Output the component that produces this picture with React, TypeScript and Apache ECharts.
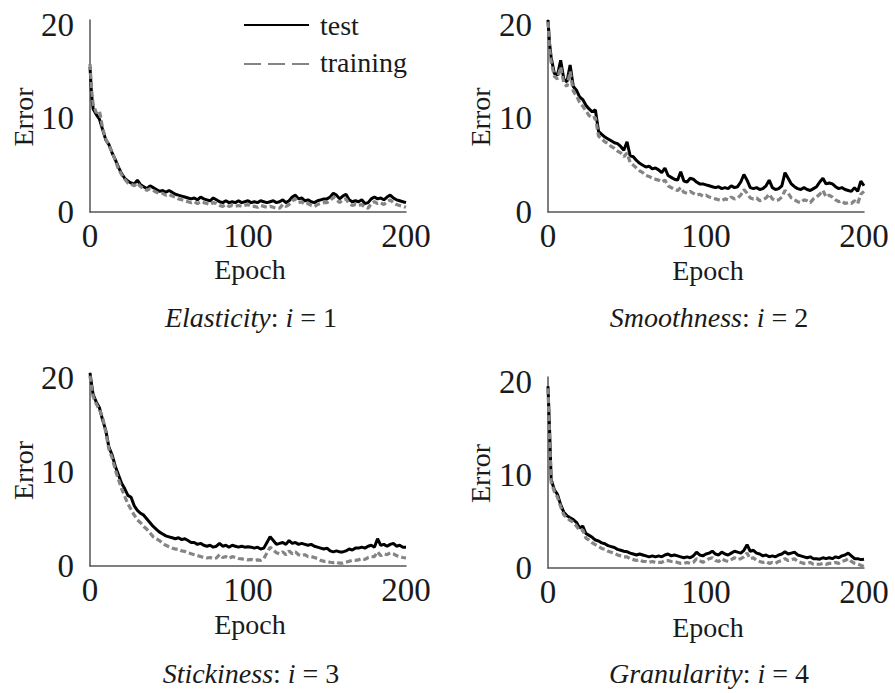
import React, { useEffect, useRef } from "react";
import * as echarts from "echarts";

const FONT = "'Liberation Serif', 'Times New Roman', serif";

// Epoch grid: 0, 1, then every 2 epochs up to 200
const EPOCHS: number[] = [0, 1, ...Array.from({ length: 100 }, (_, i) => 2 + 2 * i)];

const X_TICKS = [0, 100, 200];
const Y_TICKS = [0, 10, 20];

const CAPTIONS = ["Elasticity", "Smoothness", "Stickiness", "Granularity"];
const CAPTION_INDEX = ["1", "2", "3", "4"];

const P1_TEST = [15.5, 12.5,
  11.0, 10.4, 9.9, 8.8, 7.7, 7.2, 6.3, 5.6, 4.8, 4.1,
  3.6, 3.3, 3.1, 3.0, 3.4, 2.9, 2.7, 2.5, 2.8, 2.6,
  2.4, 2.2, 2.3, 2.1, 2.3, 2.1, 1.9, 1.8, 1.7, 1.6,
  1.5, 1.4, 1.5, 1.3, 1.6, 1.4, 1.3, 1.2, 1.5, 1.3,
  1.1, 1.0, 1.2, 1.0, 1.1, 1.0, 1.2, 1.0, 1.1, 1.2,
  1.0, 1.1, 1.0, 1.2, 1.1, 1.0, 1.1, 1.2, 1.0, 1.1,
  1.3, 1.0, 1.2, 1.6, 1.8, 1.4, 1.5, 1.2, 1.3, 1.1,
  1.0, 1.2, 1.3, 1.4, 1.4, 1.6, 2.0, 1.8, 1.4, 1.7,
  1.9, 1.3, 1.1, 1.2, 1.1, 1.3, 0.9, 1.0, 1.4, 1.6,
  1.4, 1.5, 1.3, 1.6, 1.8, 1.5, 1.3, 1.2, 1.1, 1.0];

const P1_TRAIN = [15.8, 13.0,
  11.5, 10.6, 10.8, 8.9, 7.8, 7.1, 6.4, 5.5, 4.6, 4.0,
  3.5, 3.1, 3.0, 2.8, 3.1, 2.7, 2.5, 2.3, 2.5, 2.3,
  2.1, 2.0, 2.0, 1.8, 1.9, 1.7, 1.6, 1.4, 1.3, 1.2,
  1.1, 1.0, 1.1, 0.9, 1.1, 1.0, 0.9, 0.8, 1.0, 0.9,
  0.7, 0.6, 0.8, 0.6, 0.7, 0.6, 0.7, 0.6, 0.7, 0.8,
  0.6, 0.6, 0.5, 0.7, 0.6, 0.5, 0.6, 0.5, 0.4, 0.4,
  0.8, 0.6, 0.8, 1.2, 1.4, 1.0, 1.1, 0.8, 0.9, 0.7,
  0.6, 0.8, 0.9, 1.0, 1.0, 1.2, 1.6, 1.3, 1.0, 1.3,
  1.4, 0.9, 0.7, 0.8, 0.7, 0.8, 0.5, 0.4, 0.9, 1.1,
  0.9, 1.0, 0.8, 1.1, 1.3, 1.0, 0.8, 0.7, 0.6, 0.5];

const P2_TEST = [20.5, 18.0,
  16.5, 14.8, 14.6, 16.2, 14.2, 13.9, 15.7, 13.4, 13.0, 12.3,
  12.0, 11.4, 11.0, 10.7, 10.9, 8.6, 8.3, 8.0, 7.8, 7.6,
  7.4, 7.3, 7.0, 6.6, 7.5, 6.0, 5.9, 5.5, 5.2, 5.0,
  4.8, 4.9, 4.6, 4.7, 4.5, 4.2, 4.7, 3.9, 3.7, 3.5,
  3.4, 4.3, 3.3, 3.2, 3.6, 3.5, 3.2, 3.0, 3.0, 2.9,
  2.8, 2.7, 2.6, 2.7, 2.5, 2.6, 2.5, 2.8, 2.6, 2.7,
  3.2, 4.0, 3.4, 2.6, 2.5, 2.6, 2.4, 2.5, 2.8, 3.4,
  2.6, 2.4, 2.5, 2.8, 4.2, 3.6, 3.0, 2.7, 2.5, 2.4,
  2.6, 2.4, 2.3, 2.5, 2.7, 3.2, 3.6, 3.0, 3.1, 3.0,
  2.7, 2.5, 2.6, 2.4, 2.3, 2.2, 2.6, 2.2, 3.3, 2.8];

const P2_TRAIN = [20.3, 17.5,
  16.0, 14.5, 14.2, 15.5, 13.8, 13.4, 15.0, 12.9, 12.4, 11.7,
  11.3, 10.8, 10.3, 10.0, 10.1, 8.1, 7.8, 7.5, 7.3, 7.0,
  6.8, 6.5, 6.3, 5.9, 6.3, 5.3, 5.0, 4.7, 4.4, 4.2,
  3.9, 3.8, 3.6, 3.5, 3.4, 3.2, 3.4, 2.8, 2.6, 2.4,
  2.3, 2.6, 2.1, 2.0, 2.2, 2.0, 1.8, 1.9, 1.7, 1.8,
  1.6, 1.5, 1.4, 1.3, 1.2, 1.4, 1.3, 1.6, 1.4, 1.5,
  1.8, 2.4, 2.0, 1.5, 1.4, 1.5, 1.2, 1.3, 1.5, 1.9,
  1.4, 1.2, 1.3, 1.6, 2.3, 2.0, 1.5, 1.3, 1.1, 1.0,
  1.3, 1.2, 1.0, 1.4, 1.6, 1.9, 2.3, 1.6, 1.8, 1.6,
  1.3, 1.1, 1.2, 0.9, 1.0, 0.9, 1.2, 0.9, 1.9, 2.2];

const P3_TEST = [20.5, 19.3,
  18.2, 17.4, 16.8, 15.5, 14.4, 12.6, 11.8, 10.6, 9.7, 8.8,
  8.2, 7.5, 7.3, 6.4, 5.9, 5.6, 5.4, 5.0, 4.6, 4.2,
  3.9, 3.6, 3.4, 3.2, 3.1, 3.0, 2.9, 3.0, 2.8, 2.9,
  2.7, 2.5, 2.5, 2.3, 2.4, 2.2, 2.1, 2.2, 2.0, 2.1,
  2.4, 2.1, 2.2, 2.0, 2.2, 2.1, 2.0, 2.1, 2.0, 2.05,
  2.0, 1.9, 2.0, 1.8, 1.9, 2.5, 3.1, 2.7, 2.3, 2.4,
  2.5, 2.3, 2.7, 2.4, 2.5, 2.3, 2.4, 2.3, 2.2, 2.3,
  2.1, 2.0, 1.9, 1.8, 1.9, 1.6, 1.5, 1.6, 1.5, 1.5,
  1.6, 1.8, 1.7, 1.9, 1.9, 2.0, 1.9, 2.1, 2.2, 2.0,
  2.9, 2.2, 2.3, 2.1, 2.3, 2.4, 2.1, 2.2, 2.0, 2.0];

const P3_TRAIN = [20.2, 19.0,
  18.0, 17.2, 16.6, 15.8, 14.2, 12.4, 11.5, 10.2, 9.2, 8.2,
  7.4, 6.6, 6.0, 5.4, 4.9, 4.6, 4.2, 3.9, 3.5, 3.1,
  2.9, 2.7, 2.4, 2.2, 2.05, 1.9, 1.8, 1.8, 1.6, 1.55,
  1.4, 1.3, 1.2, 1.1, 1.0, 0.9, 0.85, 0.9, 0.8, 0.85,
  1.2, 0.9, 1.0, 0.8, 1.0, 0.9, 0.8, 0.75, 0.7, 0.65,
  0.7, 0.6, 0.65, 0.6, 0.8, 1.4, 2.0, 1.7, 1.4, 1.3,
  1.5, 1.2, 1.6, 1.3, 1.5, 1.2, 1.1, 1.2, 1.0, 1.0,
  0.9, 0.8, 0.6, 0.5, 0.5, 0.4, 0.35, 0.4, 0.3, 0.3,
  0.4, 0.5, 0.6, 0.6, 0.65, 0.8, 0.7, 0.9, 1.0, 1.0,
  1.5, 1.1, 1.3, 1.2, 1.4, 1.3, 1.1, 1.0, 0.9, 0.85];

const P4_TEST = [19.5, 14.8,
  9.5, 8.4, 7.9, 6.8, 6.0, 5.6, 5.4, 5.2, 4.9, 4.3,
  4.5, 3.7, 3.5, 3.3, 3.0, 2.9, 2.7, 2.6, 2.4, 2.3,
  2.2, 2.0, 1.9, 1.8, 1.75, 1.6, 1.5, 1.4, 1.5, 1.4,
  1.3, 1.2, 1.3, 1.2, 1.3, 1.2, 1.4, 1.5, 1.3, 1.4,
  1.3, 1.2, 1.1, 1.2, 1.1, 1.3, 1.7, 1.4, 1.3, 1.5,
  1.6, 1.8, 1.5, 1.4, 1.7, 1.5, 1.4, 1.6, 1.8, 1.7,
  1.6, 1.9, 2.5, 1.8, 1.9, 1.6, 1.5, 1.3, 1.4, 1.2,
  1.3, 1.2, 1.4, 1.5, 1.75, 1.5, 1.6, 1.7, 1.4, 1.3,
  1.2, 1.1, 1.2, 1.0, 1.0, 0.95, 1.1, 1.0, 1.1, 1.0,
  1.2, 1.1, 1.3, 1.4, 1.6, 1.3, 1.0, 1.0, 0.9, 0.95];

const P4_TRAIN = [19.3, 14.0,
  9.2, 8.2, 7.6, 6.6, 5.7, 5.4, 5.1, 4.9, 4.5, 4.0,
  4.1, 3.2, 3.0, 2.7, 2.5, 2.3, 2.1, 2.0, 1.8, 1.7,
  1.6, 1.4, 1.3, 1.2, 1.2, 1.0, 0.9, 0.8, 0.9, 0.7,
  0.7, 0.6, 0.7, 0.6, 0.6, 0.6, 0.8, 0.8, 0.7, 0.7,
  0.6, 0.5, 0.5, 0.6, 0.5, 0.6, 1.0, 0.8, 0.6, 0.8,
  1.0, 1.1, 0.8, 0.7, 1.0, 0.8, 0.7, 0.9, 1.1, 0.9,
  1.0, 1.2, 1.6, 1.0, 1.1, 0.8, 0.7, 0.6, 0.7, 0.5,
  0.6, 0.5, 0.7, 0.8, 1.0, 0.8, 0.9, 1.0, 0.7, 0.6,
  0.5, 0.5, 0.6, 0.4, 0.4, 0.4, 0.5, 0.4, 0.5, 0.5,
  0.6, 0.5, 0.7, 0.8, 1.0, 0.7, 0.5, 0.4, 0.3, 0.15];

const TEST_SERIES = [P1_TEST, P2_TEST, P3_TEST, P4_TEST];
const TRAIN_SERIES = [P1_TRAIN, P2_TRAIN, P3_TRAIN, P4_TRAIN];

// layout (pixels)
const GRIDS = [
  { left: 90, top: 20, width: 316, height: 192 },
  { left: 548, top: 20, width: 316, height: 192 },
  { left: 90, top: 373, width: 316, height: 193 },
  { left: 548, top: 377, width: 316, height: 191 },
];
const EPOCH_Y = [269.5, 270.5, 624.5, 627];
const CAPTION_Y = [317.5, 317, 673, 673];
const ERROR_X = [23, 480.5, 23, 480.5];

const TEXT_COLOR = "#1a1a1a";
const AXIS_COLOR = "#555555";
const TRAIN_COLOR = "#858585";

function pairs(vals: number[]) {
  return vals.map((v, i) => [EPOCHS[i], v]);
}

export default function App() {
  const ref = useRef<HTMLDivElement>(null);

  useEffect(() => {
    if (!ref.current) return;
    const chart = echarts.init(ref.current, undefined, { renderer: "svg" });

    const grid = GRIDS.map((g) => ({ ...g, containLabel: false }));
    const xAxis = GRIDS.map((_, i) => ({
      type: "value",
      gridIndex: i,
      min: X_TICKS[0],
      max: X_TICKS[X_TICKS.length - 1],
      interval: 100,
      axisLine: { show: true, lineStyle: { color: AXIS_COLOR, width: 1.5 } },
      axisTick: { show: false },
      splitLine: { show: false },
      axisLabel: {
        fontSize: 33,
        fontFamily: FONT,
        color: TEXT_COLOR,
        margin: 7,
        formatter: (v: number) => (X_TICKS.includes(v) ? String(v) : ""),
      },
    }));
    const yAxis = GRIDS.map((_, i) => ({
      type: "value",
      gridIndex: i,
      min: 0,
      max: 20.5,
      interval: 10,
      axisLine: { show: true, lineStyle: { color: AXIS_COLOR, width: 1.5 } },
      axisTick: { show: false },
      splitLine: { show: false },
      axisLabel: {
        fontSize: 33,
        fontFamily: FONT,
        color: TEXT_COLOR,
        margin: 16,
        formatter: (v: number) => (Y_TICKS.includes(v) ? String(v) : ""),
      },
    }));

    const series: any[] = [];
    GRIDS.forEach((_, i) => {
      series.push({
        name: "test",
        type: "line",
        xAxisIndex: i,
        yAxisIndex: i,
        data: pairs(TEST_SERIES[i]),
        showSymbol: false,
        symbol: "none",
        lineStyle: { color: "#000000", width: 3 },
        z: 2,
      });
      series.push({
        name: "training",
        type: "line",
        xAxisIndex: i,
        yAxisIndex: i,
        data: pairs(TRAIN_SERIES[i]),
        showSymbol: false,
        symbol: "none",
        lineStyle: { color: TRAIN_COLOR, width: 3.2, type: [6, 3] },
        z: 3,
      });
    });

    const textStyle = (size: number) => ({
      fontSize: size,
      fontFamily: FONT,
      fill: TEXT_COLOR,
    });

    const graphic: any[] = [];
    GRIDS.forEach((g, i) => {
      const cx = g.left + g.width / 2 + 2;
      graphic.push({
        type: "text",
        x: cx,
        y: EPOCH_Y[i],
        style: { ...textStyle(28), text: "Epoch", align: "center", verticalAlign: "middle" },
      });
      graphic.push({
        type: "text",
        x: ERROR_X[i],
        y: g.top + g.height / 2 + 1,
        rotation: Math.PI / 2,
        style: { ...textStyle(28), text: "Error", align: "center", verticalAlign: "middle" },
      });
      const it = { fontSize: 28, fontFamily: FONT, fontStyle: "italic", fill: TEXT_COLOR };
      const n = { fontSize: 28, fontFamily: FONT, fontStyle: "normal", fill: TEXT_COLOR };
      graphic.push({
        type: "text",
        x: cx + 1,
        y: CAPTION_Y[i],
        style: {
          ...textStyle(28),
          text: `{it|${CAPTIONS[i]}}{n|: }{it|i}{n| = ${CAPTION_INDEX[i]}}`,
          rich: { it, n },
          align: "center",
          verticalAlign: "middle",
        },
      });
    });

    // legend (panel 1)
    graphic.push({
      type: "line",
      shape: { x1: 244, y1: 25, x2: 309, y2: 25 },
      style: { stroke: "#000000", lineWidth: 2.2 },
    });
    graphic.push({
      type: "line",
      shape: { x1: 244, y1: 64, x2: 309, y2: 64 },
      style: { stroke: TRAIN_COLOR, lineWidth: 2.2, lineDash: [17, 7] },
    });
    graphic.push({
      type: "text",
      x: 320,
      y: 25.5,
      style: { ...textStyle(28), text: "test", align: "left", verticalAlign: "middle" },
    });
    graphic.push({
      type: "text",
      x: 320,
      y: 62,
      style: { ...textStyle(28), text: "training", align: "left", verticalAlign: "middle" },
    });

    chart.setOption({
      animation: false,
      backgroundColor: "#ffffff",
      grid,
      xAxis,
      yAxis,
      series,
      graphic,
    });

    return () => chart.dispose();
  }, []);

  return (
    <div
      ref={ref}
      style={{ position: "absolute", left: 0, top: 0, width: 895, height: 693 }}
    />
  );
}
